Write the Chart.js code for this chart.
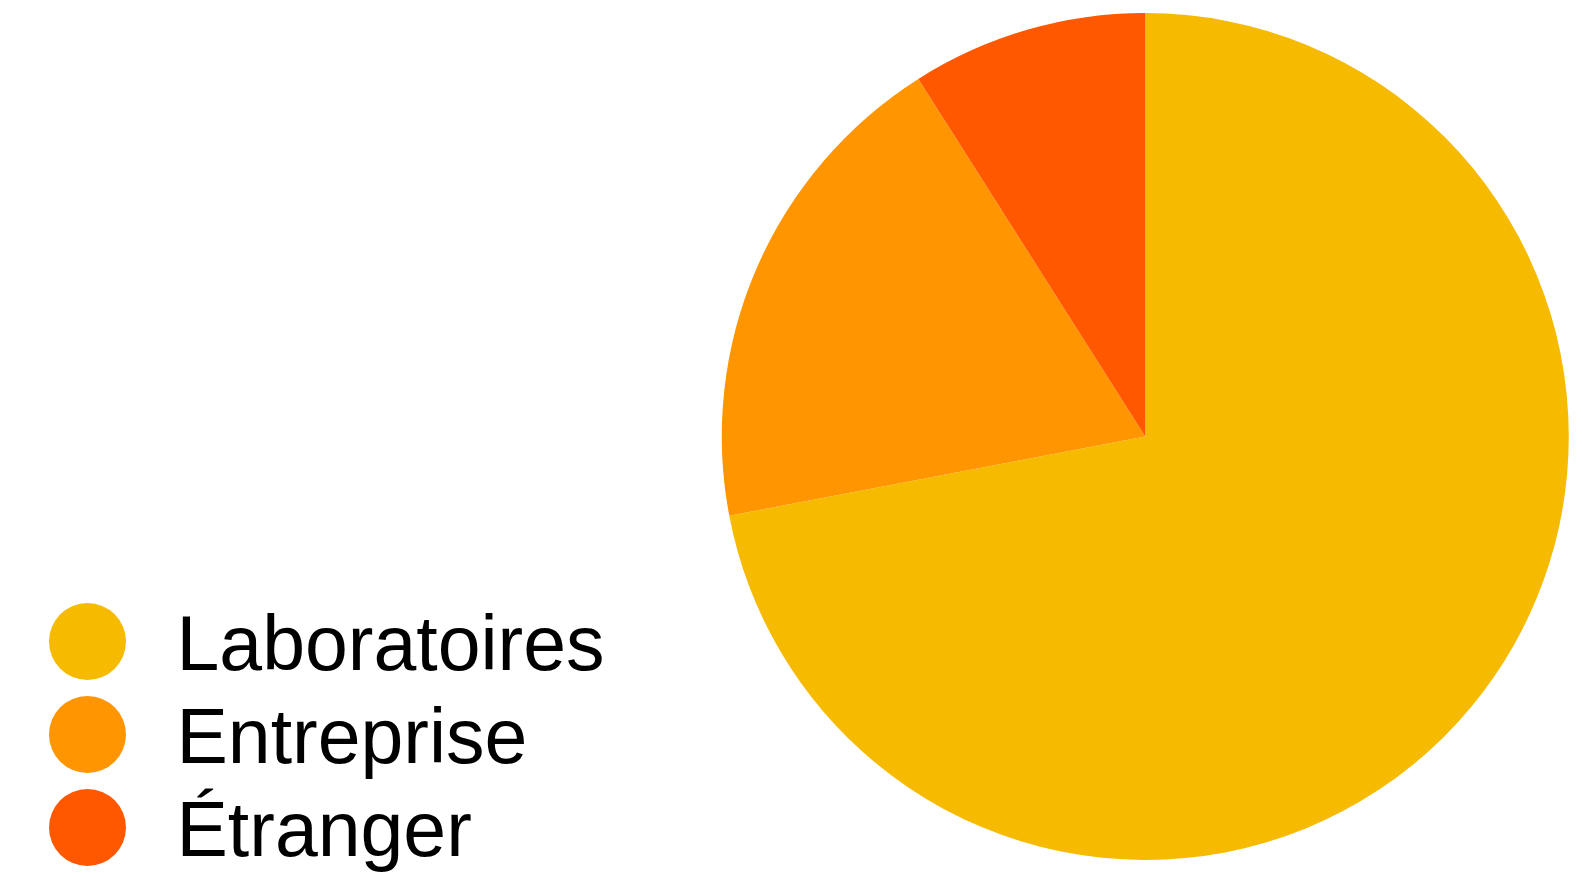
<!DOCTYPE html>
<html>
<head>
<meta charset="utf-8">
<script src="https://cdn.jsdelivr.net/npm/chart.js@4"></script>
<style>
  html, body { margin: 0; padding: 0; background: #fff; overflow: hidden; }
  canvas { display: block; }
</style>
</head>
<body>
<!-- canvas is wider than the window so the pie sits where the original has it -->
<canvas id="pie" width="1676" height="873"></canvas>
<script>
const labels = ['Laboratoires', 'Entreprise', 'Étranger']
const shares = [72, 19, 9]
const colors = ['#F6BB00', '#FF9500', '#FF5800']

// legend dots: drawn a bit left of / above where chart.js centres them
function makeDot(color) {
    const r = 38.5, offX = 12, offY = 7
    const c = document.createElement('canvas')
    c.width = Math.round(2 * (r + offX) + 2)
    c.height = Math.round(2 * (r + offY) + 2)
    const g = c.getContext('2d')
    g.fillStyle = color
    g.beginPath()
    g.arc(r + 1, r + 1, r, 0, Math.PI * 2)
    g.fill()
    return c
}
const dots = colors.map(makeDot)

const defaultLabels = Chart.overrides.doughnut.plugins.legend.labels.generateLabels

new Chart(document.getElementById('pie').getContext('2d'), {
    type: 'pie',
    data: {
        labels: labels,
        datasets: [{
            data: shares,
            backgroundColor: colors,
            borderWidth: 0,
            radius: 423.5
        }]
    },
    options: {
        responsive: false,
        animation: false,
        layout: {
            padding: { left: 45, right: 0, top: -12, bottom: -16 }
        },
        plugins: {
            tooltip: { enabled: false },
            legend: {
                position: 'left',
                align: 'end',
                labels: {
                    usePointStyle: true,
                    boxWidth: 77,
                    boxHeight: 54,
                    padding: 16,
                    color: '#000',
                    font: { family: '"Helvetica Neue", Helvetica, "Liberation Sans", Arial, sans-serif', size: 77 },
                    generateLabels: function (chart) {
                        return defaultLabels(chart).map((item, i) => {
                            item.pointStyle = dots[i]
                            return item
                        })
                    }
                }
            }
        }
    }
})
</script>
</body>
</html>
